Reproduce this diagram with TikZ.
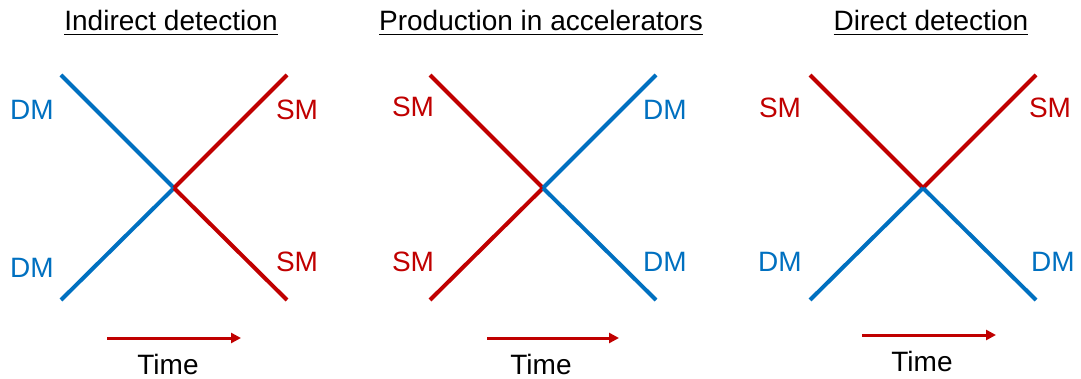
\documentclass[tikz,border=0pt]{standalone}
\usepackage{fontspec}
\setmainfont{Liberation Sans}
\usetikzlibrary{arrows.meta}
\definecolor{dmblue}{RGB}{0,112,192}
\definecolor{smred}{RGB}{192,0,0}
\tikzset{
  leg/.style={line width=2pt,draw=#1},
  leg/.default=dmblue,
  lbl/.style={text=#1,font=\fontsize{14}{16}\selectfont,inner sep=0pt},
  lbl/.default=dmblue,
  head/.style={font=\fontsize{14}{16}\selectfont,inner sep=0pt,anchor=base},
  timearrow/.style={-{Triangle[length=5pt,width=5pt]},line width=1.5pt,draw=smred},
}
\begin{document}
\begin{tikzpicture}[x=0.5pt,y=-0.5pt]
  \useasboundingbox (0,0) rectangle (1081,379);
  % titles
  \node[head] (t1) at (171,31) {\underline{Indirect detection}};
  \node[head] (t2) at (541,31) {\underline{Production in accelerators}};
  \node[head] (t3) at (931,31) {\underline{Direct detection}};
  % indirect detection
  \coordinate (v1) at (174,188);
  \coordinate (a1) at (61,75);   \coordinate (b1) at (287,75);
  \coordinate (c1) at (61,300);  \coordinate (d1) at (287,300);
  \draw[leg] (a1) -- (v1);
  \draw[leg] (c1) -- (v1);
  \draw[leg=smred] (v1) -- (b1);
  \draw[leg=smred] (v1) -- (d1);
  \node[lbl] (dm1a) at (32,110) {DM};
  \node[lbl] (dm1b) at (32,268) {DM};
  \node[lbl=smred] (sm1a) at (297,110) {SM};
  \node[lbl=smred] (sm1b) at (297,262) {SM};
  % production in accelerators
  \coordinate (v2) at (543,188);
  \coordinate (a2) at (430,75);  \coordinate (b2) at (656,75);
  \coordinate (c2) at (430,300); \coordinate (d2) at (656,300);
  \draw[leg=smred] (a2) -- (v2);
  \draw[leg=smred] (c2) -- (v2);
  \draw[leg] (v2) -- (b2);
  \draw[leg] (v2) -- (d2);
  \node[lbl=smred] (sm2a) at (413,107) {SM};
  \node[lbl=smred] (sm2b) at (413,262) {SM};
  \node[lbl] (dm2a) at (665,110) {DM};
  \node[lbl] (dm2b) at (665,262) {DM};
  % direct detection
  \coordinate (v3) at (923,188);
  \coordinate (a3) at (810,75);  \coordinate (b3) at (1036,75);
  \coordinate (c3) at (810,300); \coordinate (d3) at (1036,300);
  \draw[leg=smred] (a3) -- (v3);
  \draw[leg=smred] (v3) -- (b3);
  \draw[leg] (c3) -- (v3);
  \draw[leg] (v3) -- (d3);
  \node[lbl=smred] (sm3a) at (780,108) {SM};
  \node[lbl=smred] (sm3b) at (1050,108) {SM};
  \node[lbl] (dm3a) at (780,262) {DM};
  \node[lbl] (dm3b) at (1053,262) {DM};
  % time arrows
  \coordinate (s1) at (107,338); \coordinate (e1) at (241,338);
  \coordinate (s2) at (487,338); \coordinate (e2) at (619,338);
  \coordinate (s3) at (862,335); \coordinate (e3) at (996,335);
  \draw[timearrow] (s1) -- (e1);
  \draw[timearrow] (s2) -- (e2);
  \draw[timearrow] (s3) -- (e3);
  \node[head] (time1) at (168,374) {Time};
  \node[head] (time2) at (541,374) {Time};
  \node[head] (time3) at (922,371) {Time};
\end{tikzpicture}
\end{document}
